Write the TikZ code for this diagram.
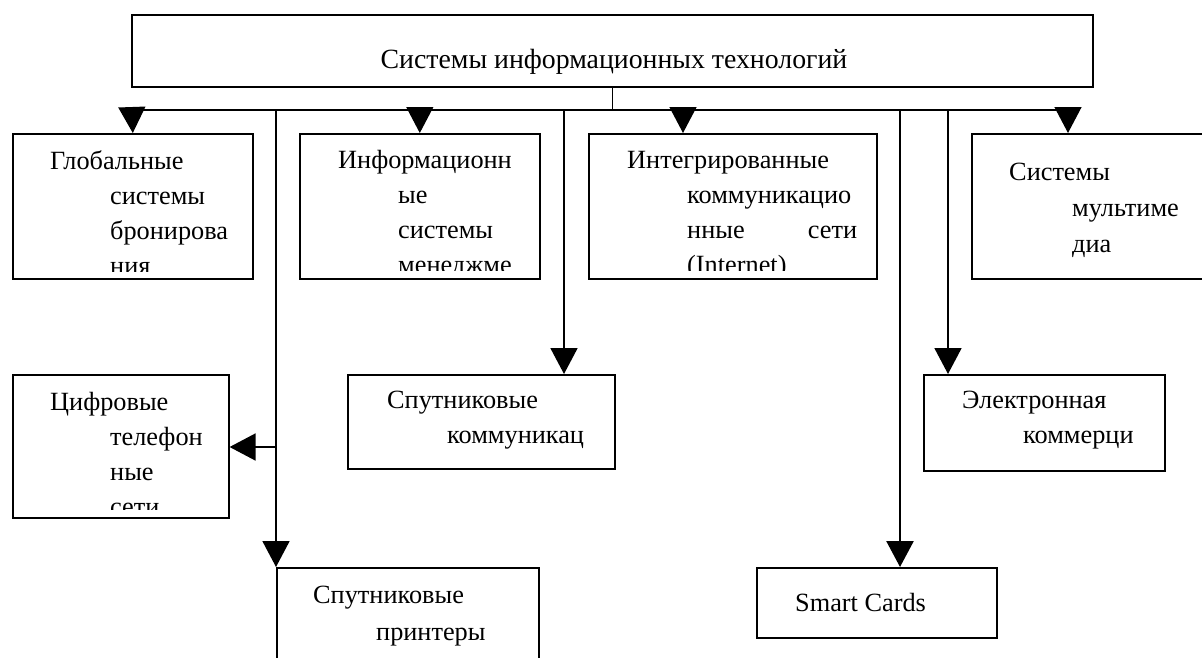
\documentclass[tikz,border=0pt]{standalone}
\usepackage{fontspec}
\setmainfont{Liberation Serif}
\usetikzlibrary{arrows.meta}
\newcommand\boxtext[1]{\parbox[t]{400pt}{\fontsize{26.3}{35}\selectfont #1}}
\newcommand\ind{\hspace*{60pt}}
\begin{document}
\begin{tikzpicture}[x=1pt,y=-1pt,
  box/.style={draw, line width=1.6pt, inner sep=0pt, anchor=north west},
  lbl/.style={anchor=base west, inner sep=0pt},
  bus/.style={line width=1.3pt},
  conn/.style={line width=1.8pt},
  thick conn/.style={line width=2.6pt},
  tri/.style={-{Triangle[length=26pt,width=27pt]}}]
\useasboundingbox (0,0) rectangle (1202,657);
% boxes
\node[box, minimum width=961pt, minimum height=72pt] (top) at (131,14) {};
\node[box, minimum width=240pt, minimum height=145pt] (glob) at (12,133) {};
\node[box, minimum width=240pt, minimum height=145pt] (info) at (299,133) {};
\node[box, minimum width=288pt, minimum height=145pt] (integ) at (588,133) {};
\node[box, minimum width=239pt, minimum height=145pt] (multi) at (971,133) {};
\node[box, minimum width=216pt, minimum height=143pt] (cifr) at (12,374) {};
\node[box, minimum width=267pt, minimum height=94pt] (sputkom) at (347,374) {};
\node[box, minimum width=241pt, minimum height=96pt] (elec) at (923,374) {};
\node[box, minimum width=262pt, minimum height=110pt] (printer) at (276,567) {};
\node[box, minimum width=240pt, minimum height=70pt] (smart) at (756,567) {};
% texts
\node[anchor=base, inner sep=0pt] (topt) at (614,68) {\fontsize{27.8}{35}\selectfont Системы информационных технологий};
\begin{scope}
\clip (glob.north west) rectangle ([yshift=8.5pt]glob.south east);
\node[lbl] (globt) at (50,169) {\boxtext{Глобальные\\\ind системы\\\ind бронирова\\\ind ния}};
\end{scope}
\begin{scope}
\clip (info.north west) rectangle ([yshift=9pt]info.south east);
\node[lbl] (infot) at (338,168) {\boxtext{Информационн\\\ind ые\\\ind системы\\\ind менеджме}};
\end{scope}
\begin{scope}
\clip (integ.north west) rectangle ([yshift=9pt]integ.south east);
\node[lbl] (integt) at (627,168) {\boxtext{Интегрированные\\\ind коммуникацио\\\ind \makebox[170pt][l]{нные\hfill сети}\\\ind (Internet)}};
\end{scope}
\node[lbl] (multit) at (1009,180) {\parbox[t]{300pt}{\fontsize{26.3}{36}\selectfont Системы\\\hspace*{63pt}мультиме\\\hspace*{63pt}диа}};
\begin{scope}
\clip (cifr.north west) rectangle ([yshift=9pt]cifr.south east);
\node[lbl] (cifrt) at (50,410) {\boxtext{Цифровые\\\ind телефон\\\ind ные\\\ind сети}};
\end{scope}
\node[lbl] (sputkomt) at (387,408) {\boxtext{Спутниковые\\\ind коммуникац}};
\node[lbl] (elect) at (962,408) {\boxtext{Электронная\\\hspace*{61pt}коммерци}};
\node[lbl] (printert) at (313,603) {\parbox[t]{300pt}{\fontsize{26.3}{37}\selectfont Спутниковые\\\hspace*{63pt}принтеры}};
\node[lbl] (smartt) at (795,611) {\fontsize{26.3}{35}\selectfont Smart Cards};
% connectors
\coordinate (busL) at (132,110);
\coordinate (busR) at (1068,110);
\coordinate (x3) at (683,110);
\coordinate (v1) at (276,110);
\coordinate (j1) at (276,447);
\coordinate (v2) at (564,110);
\coordinate (v3) at (900,110);
\coordinate (v4) at (948,110);
\draw[bus] (top.south) -- (top.south |- busL);
\draw[bus] (busL) -- (busR);
\draw[bus,tri] (busL) -- (glob.north);
\draw[bus,tri] (info.north |- busL) -- (info.north);
\draw[bus,tri] (x3) -- (integ.north -| x3);
\draw[bus,tri] (busR) -- (multi.north -| busR);
\draw[conn,tri] (v1) -- (printer.north west);
\draw[conn,tri] (j1) -- (cifr.east |- j1);
\draw[conn,tri] (v2) -- (sputkom.north -| v2);
\draw[thick conn,tri] (v3) -- (smart.north -| v3);
\draw[conn,tri] (v4) -- (elec.north -| v4);
\end{tikzpicture}
\end{document}
